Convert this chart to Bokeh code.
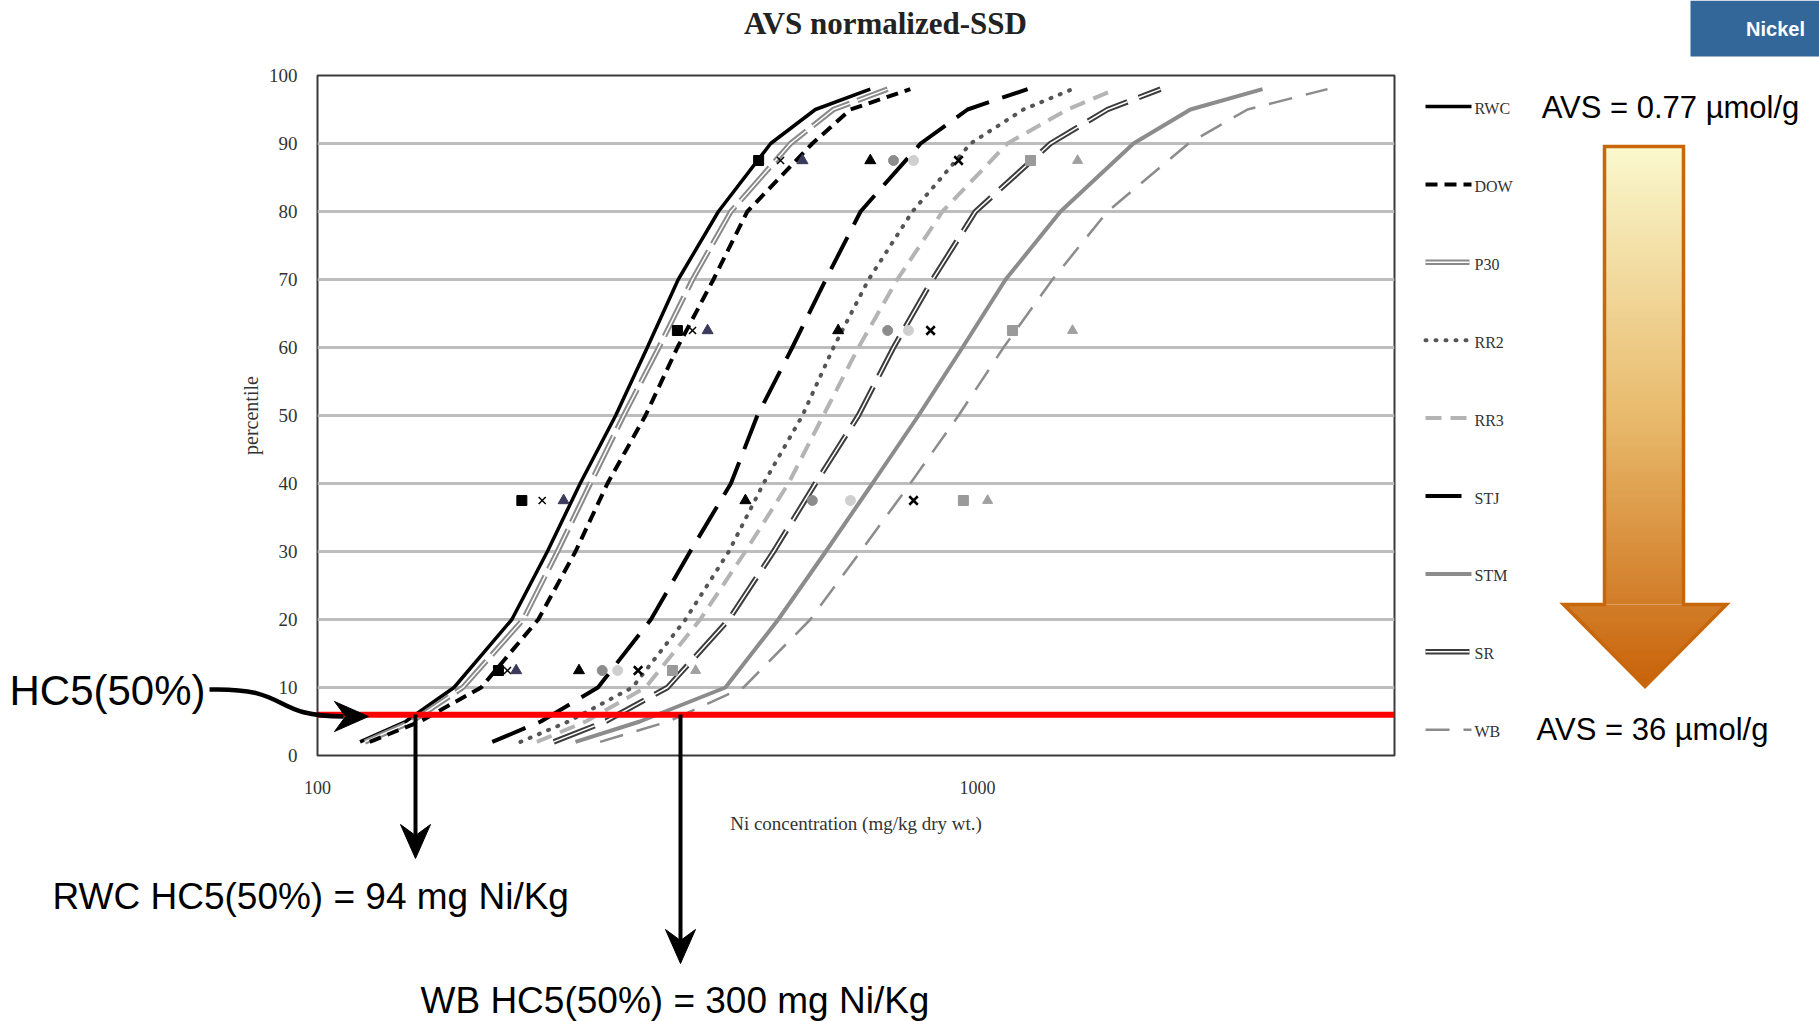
import numpy as np
from bokeh.plotting import figure
from bokeh.models import Label, Span, FixedTicker, Range1d
from bokeh.embed import file_html
from bokeh.resources import INLINE

# ---------------------------------------------------------------- data
percentiles = [2, 5, 10, 20, 30, 40, 50, 60, 70, 80, 90, 95, 98]

# fitted SSD curves, Ni concentration (mg/kg dry wt.) at each percentile
rwc = [116, 136, 161, 197, 223, 250, 283, 316, 352, 405, 486, 568, 688]
p30 = [118, 139, 166, 205, 231, 259, 291, 329, 370, 423, 521, 605, 731]
dow = [120, 143, 177, 216, 246, 275, 314, 351, 398, 448, 562, 642, 791]
stj = [184, 218, 266, 320, 367, 423, 464, 524, 589, 665, 820, 966, 1191]
rr2 = [203, 240, 300, 361, 420, 474, 543, 605, 684, 797, 976, 1174, 1393]
rr3 = [215, 255, 314, 380, 445, 517, 584, 660, 756, 885, 1110, 1369, 1619]
sr = [228, 273, 339, 420, 491, 568, 660, 746, 855, 993, 1290, 1574, 1894]
stm = [246, 308, 415, 499, 589, 693, 814, 949, 1103, 1336, 1723, 2102, 2703]
wb = [268, 340, 442, 558, 665, 791, 936, 1095, 1299, 1574, 2088, 2565, 3391]

# species data points (plotting positions)
point_pcts = [12.5, 37.5, 62.5, 87.5]
rwc_pts = [188, 204, 351, 466]
p30_pts = [194, 219, 370, 503]
dow_pts = [200, 236, 390, 543]
stj_pts = [249, 445, 615, 688]
rr2_pts = [270, 562, 731, 746]
rr3_pts = [285, 642, 786, 800]
sr_pts = [306, 800, 849, 936]
stm_pts = [345, 952, 1130, 1203]
wb_pts = [374, 1036, 1393, 1418]

legend_order = ["RWC", "DOW", "P30", "RR2", "RR3", "STJ", "STM", "SR", "WB"]

y_ticks = [0, 10, 20, 30, 40, 50, 60, 70, 80, 90, 100]
x_ticks = [100, 1000]
x_tick_labels = ["100", "1000"]

hc5_level = 6.0

title_text = "AVS normalized-SSD"
x_label = "Ni concentration (mg/kg dry wt.)"
y_label = "percentile"
avs_low_text = "AVS = 0.77 µmol/g"
avs_high_text = "AVS = 36 µmol/g"
hc5_text = "HC5(50%)"
rwc_hc5_text = "RWC HC5(50%) = 94 mg Ni/Kg"
wb_hc5_text = "WB HC5(50%) = 300 mg Ni/Kg"
badge_text = "Nickel"

# line style of each site: list of (color, width, dash) strokes drawn in order
styles = {
    "RWC": [("black", 3.5, "solid")],
    "P30": [("#8a8a8a", 5.5, "44 8"), ("white", 1.5, "44 8")],
    "DOW": [("black", 4, "12 7")],
    "STJ": [("black", 4, "36 14")],
    "RR2": [("#555555", 4, "1 9")],
    "RR3": [("#b4b4b4", 4, "16 9")],
    "SR": [("#3c3c3c", 5.5, "44 12"), ("white", 1.5, "44 12")],
    "STM": [("#8c8c8c", 4, "solid")],
    "WB": [("#8c8c8c", 2.5, "24 14")],
}

# ---------------------------------------------------------------- page geometry
W, H = 1819, 1021
FL, FR, FT, FB = 317, 1394, 75, 755          # chart frame edges on the page
DECADE = 660                                 # pixels per decade on the x axis
x_max = 100 * 10 ** ((FR - FL) / DECADE)

# ---------------------------------------------------------------- chart
p = figure(width=W, height=H, x_axis_type="log", x_range=(100, x_max),
           y_range=(0, 100), output_backend="svg", toolbar_location=None,
           min_border_left=FL, min_border_right=W - FR,
           min_border_top=FT, min_border_bottom=H - FB)
p.background_fill_color = "white"
p.border_fill_color = "white"
p.outline_line_color = "#3a3a3a"
p.outline_line_width = 2

p.xgrid.visible = False
p.ygrid.ticker = FixedTicker(ticks=y_ticks)
p.ygrid.grid_line_color = "#bdbdbd"
p.ygrid.grid_line_width = 3

for ax in (p.xaxis[0], p.yaxis[0]):
    ax.axis_line_color = None
    ax.major_tick_line_color = None
    ax.minor_tick_line_color = None
    ax.major_label_text_font = "Liberation Serif"
    ax.major_label_text_color = "#333333"
    ax.axis_label_text_font = "Liberation Serif"
    ax.axis_label_text_font_style = "normal"
    ax.axis_label_text_color = "#333333"

p.yaxis.ticker = FixedTicker(ticks=y_ticks)
p.yaxis.major_label_text_font_size = "19px"
p.yaxis.major_label_standoff = 14
p.yaxis.axis_label = y_label
p.yaxis.axis_label_text_font_size = "20px"
p.yaxis.axis_label_standoff = 4

p.xaxis.ticker = FixedTicker(ticks=x_ticks, minor_ticks=[])
p.xaxis.major_label_overrides = dict(zip(x_ticks, x_tick_labels))
p.xaxis.major_label_text_font_size = "18px"
p.xaxis.major_label_standoff = 19
p.xaxis.axis_label = x_label
p.xaxis.axis_label_text_font_size = "19px"
p.xaxis.axis_label_standoff = 16

curves = {"RWC": rwc, "P30": p30, "DOW": dow, "STJ": stj, "RR2": rr2,
          "RR3": rr3, "SR": sr, "STM": stm, "WB": wb}
for name, vals in curves.items():
    for color, width, dash in styles[name]:
        p.line(vals, percentiles, line_color=color, line_width=width,
               line_dash=dash, line_cap="round" if name == "RR2" else "butt")

p.scatter(rwc_pts, point_pcts, marker="square", size=10, fill_color="black",
          line_color="black")
p.scatter(p30_pts, point_pcts, marker="x", size=10, line_color="black",
          line_width=1.5)
p.scatter(dow_pts, point_pcts, marker="triangle", size=11,
          fill_color="#3a3a5c", line_color="#3a3a5c")
p.scatter(stj_pts, point_pcts, marker="triangle", size=11, fill_color="black",
          line_color="black")
p.scatter(rr2_pts, point_pcts, marker="circle", size=10, fill_color="#8c8c8c",
          line_color="#8c8c8c")
p.scatter(rr3_pts, point_pcts, marker="circle", size=10, fill_color="#cfcfcf",
          line_color="#cfcfcf")
p.scatter(sr_pts, point_pcts, marker="x", size=12, line_color="black",
          line_width=2.5)
p.scatter(stm_pts, point_pcts, marker="square", size=10, fill_color="#9a9a9a",
          line_color="#9a9a9a")
p.scatter(wb_pts, point_pcts, marker="triangle", size=10, fill_color="#a0a0a0",
          line_color="#a0a0a0")

p.add_layout(Span(location=hc5_level, dimension="width", line_color="#ff0000",
                  line_width=6))

# ---------------------------------------------------------------- page overlay
# a transparent full-page canvas laid over the chart, in page pixels (y down)
o = figure(width=W, height=H, x_range=Range1d(0, W), y_range=Range1d(H, 0),
           output_backend="svg", toolbar_location=None,
           x_axis_location=None, y_axis_location=None,
           min_border=0, min_border_left=0, min_border_right=0,
           min_border_top=0, min_border_bottom=0,
           margin=(-H, 0, 0, 0))
o.background_fill_alpha = 0
o.border_fill_alpha = 0
o.outline_line_color = None
o.grid.visible = False


def text(x, y, s, size, font="Liberation Sans", style="normal", color="black",
         align="left"):
    o.add_layout(Label(x=x, y=y, text=s, text_font=font,
                       text_font_size=f"{size}px", text_font_style=style,
                       text_color=color, text_align=align,
                       text_baseline="middle"))


# title and badge
text(885, 23, title_text, 31, font="Liberation Serif", style="bold",
     color="#222222", align="center")
o.quad(left=[1690], right=[W], top=[0], bottom=[56], fill_color="#336699",
       line_color=None)
text(1775, 28, badge_text, 20, style="bold", color="white", align="center")

# legend: a short stroke of each site's line style with its name
leg_x0, leg_x1, leg_top, leg_step = 1425, 1471, 106, 77.9
for i, name in enumerate(legend_order):
    yy = leg_top + i * leg_step
    for c, w, d in styles[name]:
        o.line([leg_x0, leg_x1], [yy, yy], line_color=c, line_width=w,
               line_dash=d, line_cap="round" if name == "RR2" else "butt")
    text(leg_x1 + 3, yy + 2, name, 16, font="Liberation Serif", color="#333333")

# AVS gradient arrow
top, base, tip = 146, 604, 686
shaft_l, shaft_r, head_l, head_r = 1604, 1683, 1563, 1726
cx = (head_l + head_r) / 2
stops = [(0.0, (250, 248, 205)), (0.5, (232, 186, 108)), (1.0, (200, 98, 10))]


def grad(t):
    for (t0, c0), (t1, c1) in zip(stops[:-1], stops[1:]):
        if t <= t1:
            f = (t - t0) / (t1 - t0)
            c = [int(round(a + (b - a) * f)) for a, b in zip(c0, c1)]
            return "#%02x%02x%02x" % tuple(c)
    return "#%02x%02x%02x" % stops[-1][1]


def half_width(y):
    return (head_r - head_l) / 2 * (tip - y) / (tip - base)


step = 4
sx, sy, scol = [], [], []
for y0 in range(top, tip, step):
    y1 = min(y0 + step + 1, tip)
    col = grad((y0 + step / 2 - top) / (tip - top))
    if y1 <= base:
        sx.append([shaft_l, shaft_r, shaft_r, shaft_l])
        sy.append([y0, y0, y1, y1])
        scol.append(col)
    elif y0 >= base:
        w0, w1 = half_width(y0), half_width(y1)
        sx.append([cx - w0, cx + w0, cx + w1, cx - w1])
        sy.append([y0, y0, y1, y1])
        scol.append(col)
    else:
        sx.append([shaft_l, shaft_r, shaft_r, shaft_l])
        sy.append([y0, y0, base, base])
        scol.append(col)
        w1 = half_width(y1)
        sx.append([head_l, head_r, cx + w1, cx - w1])
        sy.append([base, base, y1, y1])
        scol.append(col)
o.patches(sx, sy, fill_color=scol, line_color=None)
o.patch([shaft_l, shaft_r, shaft_r, head_r, cx, head_l, shaft_l, shaft_l],
        [top, top, base, base, tip, base, base, top],
        fill_alpha=0, line_color="#c8660a", line_width=3.5, line_join="miter")

text(1670, 107, avs_low_text, 31, align="center")
text(1652, 729, avs_high_text, 31, align="center")

# HC5 callout with curved arrow into the HC5 line
text(9, 690, hc5_text, 42)
o.bezier(x0=[209], y0=[689], x1=[343], y1=[716], cx0=[292], cy0=[687],
         cx1=[268], cy1=[716], line_color="black", line_width=4.5)

# drop arrows from the HC5 line
drop_x = [415, 680]
drop_tip = [858, 963]
o.segment(x0=drop_x, y0=[714, 714], x1=drop_x, y1=[t - 18 for t in drop_tip],
          line_color="black", line_width=4)

hx = [[368, 334, 345, 334]]
hy = [[716, 701, 716, 731]]
for x, t in zip(drop_x, drop_tip):
    hx.append([x, x - 15, x, x + 15])
    hy.append([t, t - 34, t - 23, t - 34])
o.patches(hx, hy, fill_color="black", line_color="black", line_width=1)

text(52, 896, rwc_hc5_text, 37)
text(420, 1000, wb_hc5_text, 37)

# the chart and the transparent page overlay are separate roots, so their
# frames are laid out independently; the overlay's negative top margin
# places it over the chart
open("out.html", "w").write(file_html([p, o], INLINE))
